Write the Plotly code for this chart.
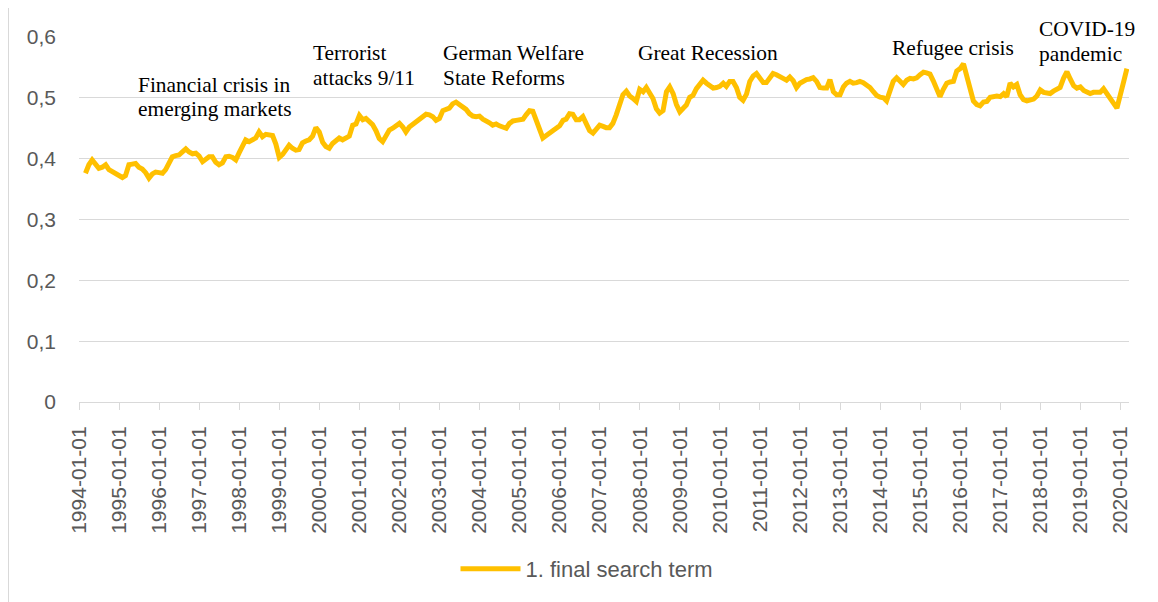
import pandas as pd
import plotly.graph_objects as go

# Monthly values, March 1994 .. March 2020
start_month = "1994-03-01"
values = [
    0.376, 0.390, 0.398, 0.392, 0.384, 0.386, 0.390, 0.382, 0.379, 0.376, 0.371, 0.369,
    0.372, 0.390, 0.391, 0.392, 0.386, 0.383, 0.377, 0.368, 0.375, 0.378, 0.377, 0.376,
    0.382, 0.391, 0.403, 0.405, 0.406, 0.411, 0.416, 0.411, 0.408, 0.409, 0.404, 0.395,
    0.398, 0.403, 0.403, 0.394, 0.390, 0.393, 0.403, 0.404, 0.402, 0.398, 0.410, 0.420,
    0.431, 0.428, 0.430, 0.434, 0.444, 0.436, 0.440, 0.440, 0.438, 0.424, 0.402, 0.407,
    0.414, 0.422, 0.417, 0.414, 0.415, 0.426, 0.429, 0.431, 0.437, 0.451, 0.444, 0.427,
    0.420, 0.417, 0.425, 0.430, 0.434, 0.431, 0.433, 0.437, 0.455, 0.457, 0.471, 0.464,
    0.466, 0.460, 0.456, 0.446, 0.433, 0.428, 0.439, 0.447, 0.450, 0.453, 0.458, 0.452,
    0.444, 0.452, 0.456, 0.460, 0.464, 0.469, 0.473, 0.472, 0.469, 0.463, 0.466, 0.479,
    0.481, 0.483, 0.490, 0.493, 0.489, 0.485, 0.481, 0.474, 0.470, 0.469, 0.470, 0.465,
    0.463, 0.459, 0.455, 0.457, 0.454, 0.452, 0.450, 0.458, 0.462, 0.463, 0.464, 0.465,
    0.472, 0.479, 0.478, 0.463, 0.445, 0.434, 0.438, 0.442, 0.448, 0.451, 0.454, 0.463,
    0.465, 0.474, 0.473, 0.464, 0.464, 0.469, 0.457, 0.446, 0.442, 0.450, 0.455, 0.453,
    0.451, 0.451, 0.458, 0.472, 0.489, 0.505, 0.511, 0.503, 0.499, 0.494, 0.514, 0.510,
    0.517, 0.509, 0.499, 0.482, 0.475, 0.479, 0.510, 0.518, 0.507, 0.489, 0.477, 0.483,
    0.488, 0.501, 0.504, 0.515, 0.523, 0.529, 0.524, 0.520, 0.516, 0.517, 0.519, 0.524,
    0.519, 0.527, 0.527, 0.517, 0.501, 0.496, 0.506, 0.527, 0.536, 0.540, 0.534, 0.525,
    0.525, 0.532, 0.540, 0.538, 0.534, 0.532, 0.529, 0.534, 0.528, 0.517, 0.524, 0.528,
    0.530, 0.531, 0.533, 0.527, 0.517, 0.516, 0.516, 0.530, 0.510, 0.505, 0.505, 0.518,
    0.524, 0.527, 0.524, 0.525, 0.527, 0.525, 0.521, 0.517, 0.510, 0.504, 0.501, 0.500,
    0.495, 0.509, 0.527, 0.533, 0.527, 0.522, 0.529, 0.532, 0.531, 0.533, 0.538, 0.542,
    0.541, 0.539, 0.528, 0.512, 0.502, 0.514, 0.524, 0.526, 0.527, 0.544, 0.548, 0.556,
    0.536, 0.510, 0.495, 0.489, 0.487, 0.493, 0.494, 0.501, 0.503, 0.503, 0.502, 0.507,
    0.502, 0.524, 0.518, 0.522, 0.505, 0.497, 0.495, 0.496, 0.498, 0.503, 0.513, 0.509,
    0.507, 0.507, 0.511, 0.514, 0.517, 0.532, 0.543, 0.531, 0.520, 0.516, 0.518, 0.512,
    0.510, 0.507, 0.509, 0.510, 0.509, 0.515, 0.508, 0.500, 0.491, 0.483, 0.502, 0.527,
    0.548,
]
dates = pd.date_range(start_month, periods=len(values), freq="MS")

series_name = "1. final search term"
y_ticks = [0, 0.1, 0.2, 0.3, 0.4, 0.5, 0.6]
y_tick_labels = ["0", "0,1", "0,2", "0,3", "0,4", "0,5", "0,6"]

# Event labels: (lines of text, left pixel, baseline pixel of each line) in page pixels
events = [
    (["Financial crisis in", "emerging markets"], 137, [92.5, 115.5]),
    (["Terrorist", "attacks 9/11"], 312, [60, 85]),
    (["German Welfare", "State Reforms"], 442, [60, 84.5]),
    (["Great Recession"], 637, [60.5]),
    (["Refugee crisis"], 891, [55]),
    (["COVID-19", "pandemic"], 1038, [36.5, 61.5]),
]

OFF = 8  # page body margin
W, H = 1150, 594
ML, MR, MT, MB = 79 - OFF, 29, 37 - OFF, 200
PW, PH = W - ML - MR, H - MT - MB


def px_to_paper(xp, yp):
    # page pixel -> paper coordinate
    fx, fy = xp - OFF, yp - OFF
    return (fx - ML) / PW, (H - MB - fy) / PH


fig = go.Figure()
fig.add_trace(go.Scatter(
    x=dates, y=values, mode="lines", name=series_name,
    line=dict(color="#FFC000", width=5, shape="linear"),
))

annotations = []
for lines, left, baselines in events:
    for text, base in zip(lines, baselines):
        ax, ay = px_to_paper(left - 1, base - 7)
        annotations.append(dict(
            text=text, x=ax, y=ay, xref="paper", yref="paper",
            xanchor="left", yanchor="middle", showarrow=False,
            font=dict(family="Liberation Serif", size=21.4, color="#000000"),
        ))

bx0, by0 = px_to_paper(8.5, 7.5)
bx1, by1 = px_to_paper(1170, 620)
lx, ly = px_to_paper(587, 569)

fig.update_layout(
    width=W, height=H,
    margin=dict(l=ML, r=MR, t=MT, b=MB, pad=0),
    paper_bgcolor="white", plot_bgcolor="white",
    showlegend=True,
    legend=dict(
        orientation="h", x=lx, xanchor="center", y=ly, yanchor="middle",
        font=dict(family="Liberation Sans", size=22, color="#595959"),
        itemwidth=60,
    ),
    annotations=annotations,
    shapes=[dict(type="rect", xref="paper", yref="paper",
                 x0=bx0, y0=by0, x1=bx1, y1=by1,
                 line=dict(color="#d9d9d9", width=1), layer="below")],
    xaxis=dict(
        type="date",
        range=["1994-01-01", "2020-03-20"],
        tick0="1994-01-01", dtick="M12", tickformat="%Y-%m-%d",
        tickangle=-90,
        ticks="outside", ticklen=7, tickcolor="#d9d9d9", tickwidth=1,
        ticklabelstandoff=8,
        showline=True, linecolor="#d9d9d9", linewidth=1,
        showgrid=False, zeroline=False,
        tickfont=dict(family="Liberation Sans", size=21, color="#595959"),
    ),
    yaxis=dict(
        range=[0, 0.6], tickvals=y_ticks, ticktext=y_tick_labels,
        showgrid=True, gridcolor="#d9d9d9", gridwidth=1,
        zeroline=False, showline=False, ticks="",
        ticklabelstandoff=22,
        tickfont=dict(family="Liberation Sans", size=21, color="#595959"),
    ),
)

fig.write_html("out.html")
